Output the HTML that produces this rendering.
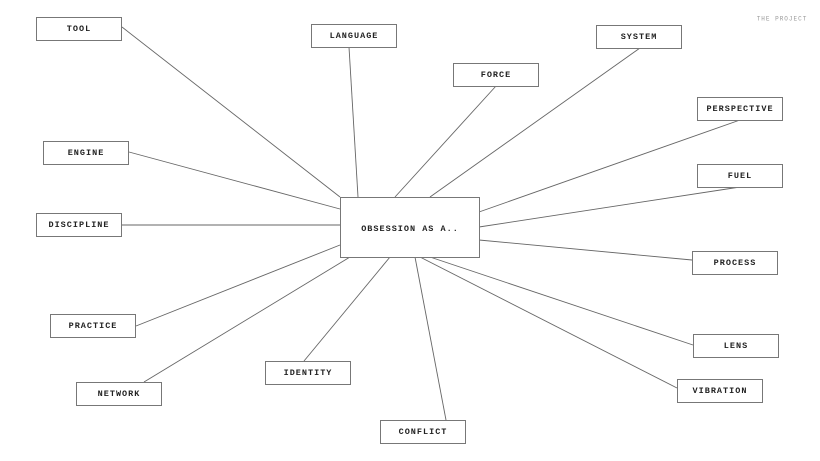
<!DOCTYPE html>
<html><head><style>
html,body{margin:0;padding:0;background:#fff;}
svg{display:block}
text{font-family:"Liberation Mono",monospace;font-size:8.5px;font-weight:bold;letter-spacing:1px;fill:#222;text-anchor:middle;dominant-baseline:central}
rect{fill:#fff;stroke:#777;stroke-width:1}
line{stroke:#666;stroke-width:0.9}
</style></head><body>
<svg width="820" height="461" viewBox="0 0 820 461">
<g>
<line x1="122" y1="27" x2="340" y2="197"/>
<line x1="349" y1="47" x2="358" y2="197"/>
<line x1="496" y1="86" x2="395" y2="197"/>
<line x1="640" y1="48" x2="430" y2="197"/>
<line x1="740" y1="120" x2="479" y2="212"/>
<line x1="740" y1="187" x2="479" y2="227"/>
<line x1="692" y1="260" x2="479" y2="240"/>
<line x1="693" y1="345" x2="430" y2="257"/>
<line x1="677" y1="388" x2="420" y2="257"/>
<line x1="446" y1="420" x2="415" y2="257"/>
<line x1="304" y1="361" x2="390" y2="257"/>
<line x1="144" y1="382" x2="350" y2="257"/>
<line x1="136" y1="326" x2="340" y2="245"/>
<line x1="122" y1="225" x2="340" y2="225"/>
<line x1="129" y1="152" x2="340" y2="209"/>
</g>
<rect x="340.5" y="197.5" width="139" height="60"/><text x="410" y="229">OBSESSION AS A..</text>
<rect x="36.5" y="17.5" width="85" height="23"/><text x="79" y="29">TOOL</text>
<rect x="311.5" y="24.5" width="85" height="23"/><text x="354" y="36">LANGUAGE</text>
<rect x="453.5" y="63.5" width="85" height="23"/><text x="496" y="75">FORCE</text>
<rect x="596.5" y="25.5" width="85" height="23"/><text x="639" y="37">SYSTEM</text>
<rect x="697.5" y="97.5" width="85" height="23"/><text x="740" y="109">PERSPECTIVE</text>
<rect x="697.5" y="164.5" width="85" height="23"/><text x="740" y="176">FUEL</text>
<rect x="692.5" y="251.5" width="85" height="23"/><text x="735" y="263">PROCESS</text>
<rect x="693.5" y="334.5" width="85" height="23"/><text x="736" y="346">LENS</text>
<rect x="677.5" y="379.5" width="85" height="23"/><text x="720" y="391">VIBRATION</text>
<rect x="380.5" y="420.5" width="85" height="23"/><text x="423" y="432">CONFLICT</text>
<rect x="265.5" y="361.5" width="85" height="23"/><text x="308" y="373">IDENTITY</text>
<rect x="76.5" y="382.5" width="85" height="23"/><text x="119" y="394">NETWORK</text>
<rect x="50.5" y="314.5" width="85" height="23"/><text x="93" y="326">PRACTICE</text>
<rect x="36.5" y="213.5" width="85" height="23"/><text x="79" y="225">DISCIPLINE</text>
<rect x="43.5" y="141.5" width="85" height="23"/><text x="86" y="153">ENGINE</text>
<text x="782" y="19" style="font-size:6px;font-weight:normal;fill:#999">THE PROJECT</text>
</svg>
</body></html>
